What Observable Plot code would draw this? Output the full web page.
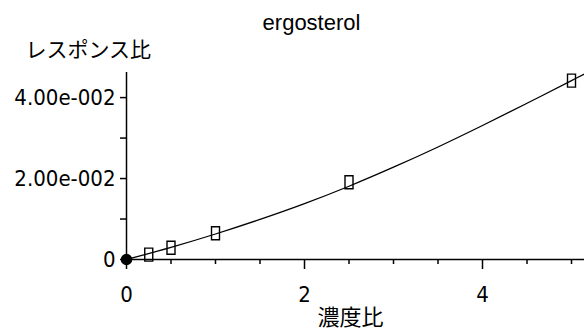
<!DOCTYPE html>
<html>
<head>
<meta charset="utf-8">
<script src="https://cdn.jsdelivr.net/npm/d3@7"></script>
<script src="https://cdn.jsdelivr.net/npm/@observablehq/plot@0.6"></script>
<style>
  html, body { margin: 0; padding: 0; background: #fff; }
  svg { display: block; }
</style>
</head>
<body>
<div id="chart"></div>
<script>
// Calibration points (concentration ratio vs response ratio)
const concRatio = [0.25, 0.5, 1.0, 2.5, 5.0];
const responseRatio = [0.0012, 0.0029, 0.0065, 0.0191, 0.0442];
// Fitted calibration curve
const curveX = [0, 0.5, 1, 1.5, 2, 2.5, 3, 3.5, 4, 4.5, 5, 5.15];
const curveY = [0, 0.0030, 0.0063, 0.0099, 0.0138, 0.0181, 0.0228, 0.0278, 0.0331, 0.0386, 0.0442, 0.0459];
// Origin point
const originX = [0];
const originY = [0];
// Ticks
const xMajorTicks = [0, 2, 4];
const xMinorTicks = [0.5, 1, 1.5, 2.5, 3, 3.5, 4.5, 5];
const yMajorTicks = [0, 0.02, 0.04];
const yMinorTicks = [0.01, 0.03];
const yTickLabels = ["0", "2.00e-002", "4.00e-002"];
const title = "ergosterol";
const yLabel = "レスポンス比";
const xLabel = "濃度比";

const points = concRatio.map((x, i) => ({x, y: responseRatio[i]}));
const curve = curveX.map((x, i) => ({x, y: curveY[i]}));
const origin = originX.map((x, i) => ({x, y: originY[i]}));

const tallRect = { draw(ctx) { ctx.rect(-4, -6.5, 8, 13); } };
const numFont = "'DejaVu Sans Condensed', 'Liberation Sans Narrow', 'Noto Sans', sans-serif";
const jpFont = "'Noto Sans CJK JP', sans-serif";

const chart = Plot.plot({
  width: 584,
  height: 332,
  marginLeft: 126,
  marginRight: 0,
  marginTop: 72,
  marginBottom: 73,
  style: {fontFamily: numFont, color: "#000", background: "#fff"},
  x: {domain: [0, 5.146], axis: null},
  y: {domain: [0, 0.0462], axis: null},
  marks: [
    Plot.axisY({ticks: yMajorTicks, tickSize: 6, tickPadding: 5, strokeWidth: 1.5,
      tickFormat: d => yTickLabels[yMajorTicks.indexOf(d)], fontSize: 22, label: null,
      fontFamily: numFont}),
    Plot.axisY({ticks: yMinorTicks, tickSize: 6, strokeWidth: 1.5, tickFormat: () => "", label: null}),
    Plot.axisX({ticks: xMajorTicks, tickSize: 10, tickPadding: 17, strokeWidth: 1.5,
      tickFormat: d => String(d), fontSize: 22, label: null, fontFamily: numFont}),
    Plot.axisX({ticks: xMinorTicks, tickSize: 5, strokeWidth: 1.5, tickFormat: () => "", label: null}),
    Plot.ruleX([0], {stroke: "#000", strokeWidth: 1.5}),
    Plot.ruleY([0], {stroke: "#000", strokeWidth: 1.5}),
    Plot.line(curve, {x: "x", y: "y", stroke: "#000", strokeWidth: 1.3, curve: "catmull-rom", clip: true}),
    Plot.dot(points, {x: "x", y: "y", symbol: tallRect, stroke: "#000", strokeWidth: 1.4, fill: "none"}),
    Plot.dot(origin, {x: "x", y: "y", r: 5, fill: "#000", stroke: "#000"}),
    Plot.text([title], {frameAnchor: "top", dx: -44, dy: -58, text: d => d, fontSize: 22,
      fontFamily: "'Liberation Sans', Arial, sans-serif", fill: "#000"}),
    Plot.text([yLabel], {frameAnchor: "top-left", dx: -101, dy: -30, text: d => d, fontSize: 21,
      textAnchor: "start", fontFamily: jpFont, fill: "#000", letterSpacing: 1.5}),
    Plot.text([xLabel], {frameAnchor: "bottom-left", dx: 191, dy: 65, text: d => d, fontSize: 22,
      textAnchor: "start", fontFamily: jpFont, fill: "#000"})
  ]
});
document.getElementById("chart").appendChild(chart);
</script>
</body>
</html>
